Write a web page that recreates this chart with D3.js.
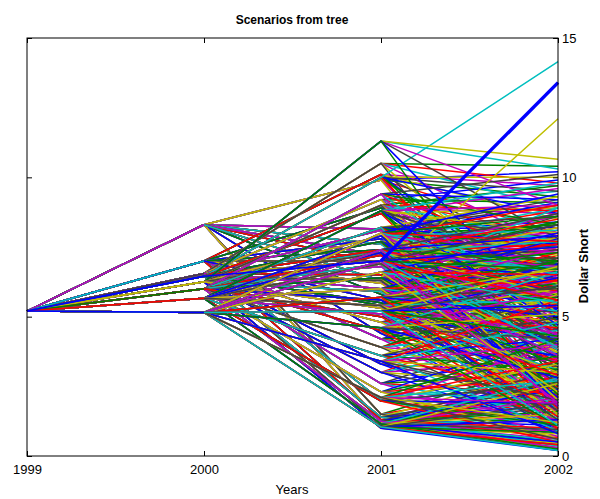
<!DOCTYPE html>
<html><head><meta charset="utf-8">
<script src="https://cdn.jsdelivr.net/npm/d3@7"></script>
<style>
html,body{margin:0;padding:0;background:#fff;}
text{font-family:"Liberation Sans",Arial,sans-serif;fill:#000;}
</style></head>
<body><svg id="chart" width="600" height="499"></svg>
<script>
// ---- data ----
const years = [1999, 2000, 2001, 2002];
const yTicks = [0, 5, 10, 15];
const rootValue = 5.2;
const nodes2000 = [8.3, 7.0, 6.55, 6.45, 6.25, 6.0, 5.66, 5.15];
const nodes2001 = [
  [9.9, 8.15, 7.6, 6.9, 5.8, 4.4, 1.5, 1.2, 7.2, 6.3],
  [10.1, 8.9, 7.8, 7.0, 6.2, 4.2, 2.0, 1.3, 7.4, 5.6],
  [10.5, 9.2, 8.1, 7.3, 6.5, 5.4, 3.3, 1.1, 7.0, 6.0],
  [10.0, 8.7, 7.7, 7.0, 6.3, 4.8, 2.6, 1.4, 7.4, 5.5],
  [3.0, 9.0, 7.9, 6.8, 5.9, 4.5, 11.3, 1.0, 7.3, 5.3],
  [9.4, 8.2, 7.2, 6.4, 5.6, 3.9, 2.3, 1.25, 6.9, 5.0],
  [8.8, 7.9, 6.9, 6.0, 5.1, 3.6, 1.97, 1.15, 7.3, 5.4],
  [8.0, 7.4, 1.04, 5.7, 4.6, 3.4, 2.1, 6.6, 7.0, 5.2]
];
const leaves2002 = [
  [[10.2,9.3,8.0,6.5,4.0,2.1],[9.0,8.2,7.1,5.9,3.6,1.8],[8.6,7.7,6.8,5.4,4.2,2.5],[8.1,7.3,6.4,5.2,3.1,1.6],
   [7.4,6.6,5.8,4.7,3.5,1.3],[6.2,5.5,4.6,3.8,2.2,0.9],[3.4,2.6,1.9,1.3,0.7,0.4],[2.9,2.2,1.5,1.0,0.6,0.25],
   [8.4,7.5,6.6,5.3,3.9,2.0],[7.6,6.9,6.0,4.9,3.3,1.5]],
  [[9.7,8.5,6.9,5.2,3.9,2.3],[9.5,8.7,7.6,6.2,4.5,2.0],[8.8,7.9,7.0,5.6,3.3,1.7],[8.3,7.4,6.6,5.5,4.1,2.8],
   [7.6,6.9,6.1,5.0,3.7,1.4],[6.0,5.3,4.4,3.2,2.4,1.1],[4.1,3.2,2.5,1.8,1.2,0.8],[3.0,2.3,1.7,1.1,0.5,0.3],
   [8.7,7.8,6.9,5.8,4.0,2.2],[7.2,6.5,5.7,4.6,3.2,1.3]],
  [[10.4,9.8,8.9,7.5,5.1,2.6],[9.9,9.1,7.9,6.7,4.8,2.2],[9.2,8.4,7.5,6.3,4.3,1.9],[8.5,7.7,6.8,5.8,3.8,2.7],
   [7.9,7.1,6.3,5.3,4.0,1.5],[7.0,6.4,5.6,4.5,3.0,1.2],[5.5,4.7,3.9,2.9,2.0,1.0],[2.7,2.0,1.4,0.9,0.45,0.2],
   [8.3,7.5,6.6,5.6,3.9,2.1],[7.5,6.8,6.0,5.0,3.5,1.6]],
  [[10.0,9.5,8.7,5.7,3.4,14.15],[9.6,8.9,7.8,6.5,4.6,2.4],[8.9,8.0,7.2,6.0,4.4,2.1],[8.2,7.5,6.7,5.6,3.5,1.8],
   [7.7,7.0,6.2,5.1,3.9,1.6],[6.5,5.8,4.9,4.1,2.7,1.3],[4.6,3.7,3.0,2.2,1.5,0.7],[3.2,2.5,1.8,1.2,0.65,0.35],
   [8.6,7.8,7.0,5.9,4.2,2.3],[7.1,6.3,5.5,4.4,3.0,1.2]],
  [[5.2,4.3,3.5,2.6,1.7,0.9],[9.7,8.8,7.7,6.4,4.7,2.9],[9.1,8.3,7.4,6.1,4.2,2.0],[8.6,7.6,6.9,5.9,3.6,1.5],
   [7.5,6.8,6.0,4.9,3.4,1.7],[6.3,5.6,4.8,3.6,2.6,1.0],[10.3,9.0,10.65,7.8,4.9,2.5],[2.5,1.9,1.3,0.8,0.4,0.2],
   [8.4,7.6,6.7,5.7,3.7,1.9],[6.9,6.2,5.4,4.3,2.9,1.2]],
  [[10.1,9.2,8.3,7.0,5.0,2.3],[9.3,8.6,7.6,6.6,4.4,2.0],[8.7,7.8,7.1,5.9,3.8,1.7],[8.9,7.4,12.1,5.6,4.1,2.4],
   [7.3,6.6,5.9,4.8,3.2,1.4],[6.1,5.4,4.5,3.4,2.3,1.1],[4.4,3.6,2.8,2.0,1.3,0.6],[3.1,2.4,1.6,1.0,0.55,0.3],
   [8.2,7.4,6.5,5.5,3.8,2.0],[6.7,6.0,5.2,4.2,2.8,1.0]],
  [[9.8,9.0,8.0,6.8,4.7,2.2],[9.0,8.1,7.3,6.2,4.0,1.9],[8.4,7.6,6.8,5.7,3.7,2.6],[7.8,7.0,6.3,5.2,3.9,1.5],
   [7.1,6.4,5.7,4.6,3.1,1.2],[5.8,5.0,4.2,3.1,2.1,0.9],[4.0,3.3,2.6,1.9,1.1,0.5],[2.8,2.1,1.5,0.95,0.5,0.25],
   [8.5,7.7,6.8,5.8,4.0,2.1],[7.0,6.3,5.6,4.4,3.0,1.3]],
  [[9.4,8.6,7.7,6.5,4.3,2.0],[8.7,7.9,7.0,5.9,3.8,1.8],[2.6,1.9,1.3,0.85,0.4,0.2],[7.5,6.7,6.0,5.0,3.3,1.4],
   [6.6,5.9,5.1,4.2,2.8,1.1],[5.6,4.8,4.0,3.0,2.0,0.8],[4.2,3.4,2.7,1.9,1.2,0.6],[8.0,7.3,6.5,5.5,3.6,2.3],
   [8.3,7.5,6.7,5.6,3.9,1.9],[6.8,6.1,5.4,4.3,2.9,1.1]]
];
const highlightPath = [5.2, 6.45, 7.0, 13.4];

// ---- styles ----
const colors = ["#0000ff", "#008000", "#ff0000", "#00bfbf", "#bf00bf", "#bfbf00", "#404040"];
const firstStageColors = ["#bf00bf", "#00bfbf", "#404040", "#0000ff", "#bfbf00", "#008000", "#ff0000", "#0000ff"];

// ---- build scenarios ----
const scenarios = [];
nodes2000.forEach((v1, i) => {
  nodes2001[i].forEach((v2, j) => {
    leaves2002[i][j].forEach(v3 => scenarios.push([rootValue, v1, v2, v3]));
  });
});

const svg = d3.select("#chart");
const m = {left: 27, right: 558, top: 38, bottom: 456};
const x = d3.scaleLinear().domain([1999, 2002]).range([m.left, m.right]);
const y = d3.scaleLinear().domain([0, 15]).range([m.bottom, m.top]);

const line = d3.line().x((d, i) => x(years[i])).y(d => y(d));
const lineFrom = k => d3.line().x((d, i) => x(years[i + k])).y(d => y(d));

const g = svg.append("g");
g.selectAll("path.s").data(scenarios).join("path")
  .attr("class", "s")
  .attr("d", line)
  .attr("fill", "none")
  .attr("stroke", (d, i) => colors[i % colors.length])
  .attr("stroke-width", 1.5)
  .attr("stroke-linejoin", "round");

// first-stage branches (visible colours of 1999→2000 segments)
g.selectAll("path.f").data(nodes2000).join("path")
  .attr("class", "f")
  .attr("d", v => lineFrom(0)([rootValue, v]))
  .attr("fill", "none")
  .attr("stroke", (d, i) => firstStageColors[i])
  .attr("stroke-width", 1.5);

// highlighted scenario
g.append("path").datum(highlightPath)
  .attr("d", line).attr("fill", "none")
  .attr("stroke", "#0000ff").attr("stroke-width", 1.5);
g.append("path").datum(highlightPath.slice(2))
  .attr("d", lineFrom(2)).attr("fill", "none")
  .attr("stroke", "#0000ff").attr("stroke-width", 3.4);

// frame
svg.append("rect").attr("x", m.left).attr("y", m.top)
  .attr("width", m.right - m.left).attr("height", m.bottom - m.top)
  .attr("fill", "none").attr("stroke", "#000").attr("stroke-width", 1);

// axes (inward ticks)
const xAxisB = d3.axisBottom(x).tickValues(years).tickFormat(d3.format("d")).tickSizeInner(-5).tickSizeOuter(0).tickPadding(9);
const gb = svg.append("g").attr("transform", `translate(0,${m.bottom})`).call(xAxisB);
const xAxisT = d3.axisTop(x).tickValues(years).tickFormat("").tickSizeInner(-5).tickSizeOuter(0);
const gt = svg.append("g").attr("transform", `translate(0,${m.top})`).call(xAxisT);
const yAxisR = d3.axisRight(y).tickValues(yTicks).tickSizeInner(-5).tickSizeOuter(0).tickPadding(9);
const gr = svg.append("g").attr("transform", `translate(${m.right},0)`).call(yAxisR);
const yAxisL = d3.axisLeft(y).tickValues(yTicks).tickFormat("").tickSizeInner(-5).tickSizeOuter(0);
const gl = svg.append("g").attr("transform", `translate(${m.left},0)`).call(yAxisL);
[gb, gt, gr, gl].forEach(a => {
  a.select(".domain").remove();
  a.selectAll(".tick line").attr("stroke", "#000");
  a.selectAll("text").attr("font-size", 13).attr("font-family", "Liberation Sans, Arial, sans-serif").attr("fill", "#000");
});
gr.selectAll("text").attr("x", 4);

svg.append("text").attr("x", 292).attr("y", 24).attr("text-anchor", "middle")
  .attr("font-size", 12).attr("font-weight", "bold").text("Scenarios from tree");
svg.append("text").attr("x", 292).attr("y", 494).attr("text-anchor", "middle")
  .attr("font-size", 13).text("Years");
svg.append("text").attr("transform", "translate(588,266) rotate(-90)").attr("text-anchor", "middle")
  .attr("font-size", 13).attr("font-weight", "bold").text("Dollar Short");
</script></body></html>
